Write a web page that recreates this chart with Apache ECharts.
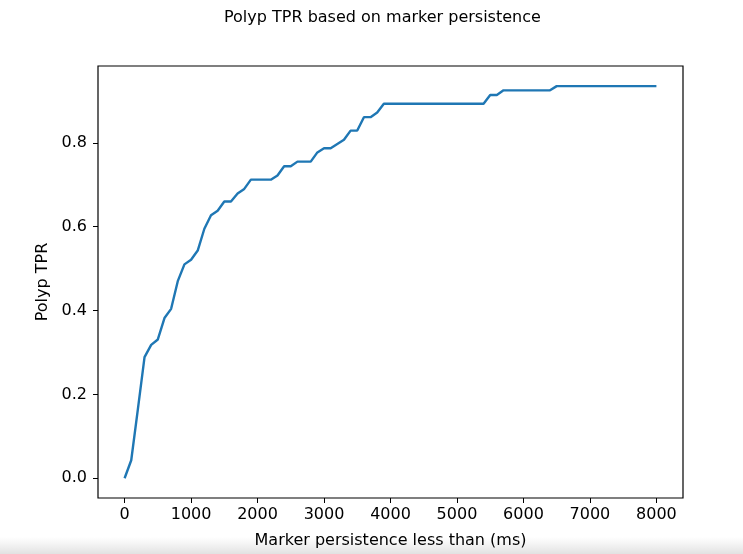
<!DOCTYPE html>
<html>
<head>
<meta charset="utf-8">
<script src="https://cdn.jsdelivr.net/npm/echarts@6/dist/echarts.min.js"></script>
<style>
html,body{margin:0;padding:0;background:#fff;}
#chart{width:743px;height:554px;}
</style>
</head>
<body>
<div id="chart"></div>
<script>
// Marker persistence thresholds (ms)
const persistenceMs = [
  0,100,200,300,400,500,600,700,800,900,
  1000,1100,1200,1300,1400,1500,1600,1700,1800,1900,
  2000,2100,2200,2300,2400,2500,2600,2700,2800,2900,
  3000,3100,3200,3300,3400,3500,3600,3700,3800,3900,
  4000,4100,4200,4300,4400,4500,4600,4700,4800,4900,
  5000,5100,5200,5300,5400,5500,5600,5700,5800,5900,
  6000,6100,6200,6300,6400,6500,6600,6700,6800,6900,
  7000,7100,7200,7300,7400,7500,7600,7700,7800,7900,
  8000
];
// Polyp TPR values
const polypTPR = [
  0.000,0.043,0.165,0.289,0.318,0.331,0.382,0.404,0.470,0.510,
  0.521,0.543,0.595,0.627,0.638,0.660,0.660,0.679,0.690,0.712,
  0.712,0.712,0.712,0.722,0.744,0.744,0.755,0.755,0.755,0.777,
  0.787,0.787,0.797,0.807,0.829,0.829,0.861,0.861,0.872,0.893,
  0.893,0.893,0.893,0.893,0.893,0.893,0.893,0.893,0.893,0.893,
  0.893,0.893,0.893,0.893,0.893,0.914,0.914,0.925,0.925,0.925,
  0.925,0.925,0.925,0.925,0.925,0.935,0.935,0.935,0.935,0.935,
  0.935,0.935,0.935,0.935,0.935,0.935,0.935,0.935,0.935,0.935,
  0.935
];
const xTicks = [0,1000,2000,3000,4000,5000,6000,7000,8000];
const yTicks = [0.0,0.2,0.4,0.6,0.8];

const FONT = 'DejaVu Sans';
const chart = echarts.init(document.getElementById('chart'), null, {renderer:'canvas'});
const seriesData = persistenceMs.map((x,i)=>[x, polypTPR[i]]);

chart.setOption({
  animation:false,
  backgroundColor:'#ffffff',
  title:{
    text:'Polyp TPR based on marker persistence',
    left:219, top:5,
    textStyle:{fontFamily:FONT,fontSize:16,fontWeight:'normal',color:'#000'}
  },
  grid:{left:98, top:66, width:585, height:433, show:true, borderColor:'#000', borderWidth:1.2, backgroundColor:'transparent'},
  xAxis:{
    type:'value', min:-400, max:8400,
    name:'Marker persistence less than (ms)', nameLocation:'middle', nameGap:35,
    nameTextStyle:{fontFamily:FONT,fontSize:16,color:'#000'},
    axisLine:{show:false, onZero:false},
    splitLine:{show:false},
    axisTick:{show:true, inside:false, length:5, customValues:xTicks, lineStyle:{color:'#000',width:1}},
    axisLabel:{margin:9, fontFamily:FONT, fontSize:16, color:'#000', customValues:xTicks, formatter:v=>String(v)}
  },
  yAxis:{
    type:'value', min:-0.047, max:0.983,
    name:'Polyp TPR', nameLocation:'middle', nameGap:39,
    nameTextStyle:{fontFamily:FONT,fontSize:16,color:'#000'},
    axisLine:{show:false, onZero:false},
    splitLine:{show:false},
    axisTick:{show:true, inside:false, length:5, customValues:yTicks, lineStyle:{color:'#000',width:1}},
    axisLabel:{margin:11, fontFamily:FONT, fontSize:16, color:'#000', customValues:yTicks, formatter:v=>v.toFixed(1)}
  },
  series:[{
    type:'line', data:seriesData, showSymbol:false, symbol:'none',
    lineStyle:{color:'#1f77b4', width:2.4}, z:3
  }],
  graphic:[{
    type:'rect', left:0, top:537, z:-1,
    shape:{width:743, height:17},
    style:{fill:new echarts.graphic.LinearGradient(0,0,0,1,[{offset:0,color:'rgba(230,230,230,0)'},{offset:1,color:'rgba(225,225,225,1)'}])},
    silent:true
  }]
});
</script>
</body>
</html>
